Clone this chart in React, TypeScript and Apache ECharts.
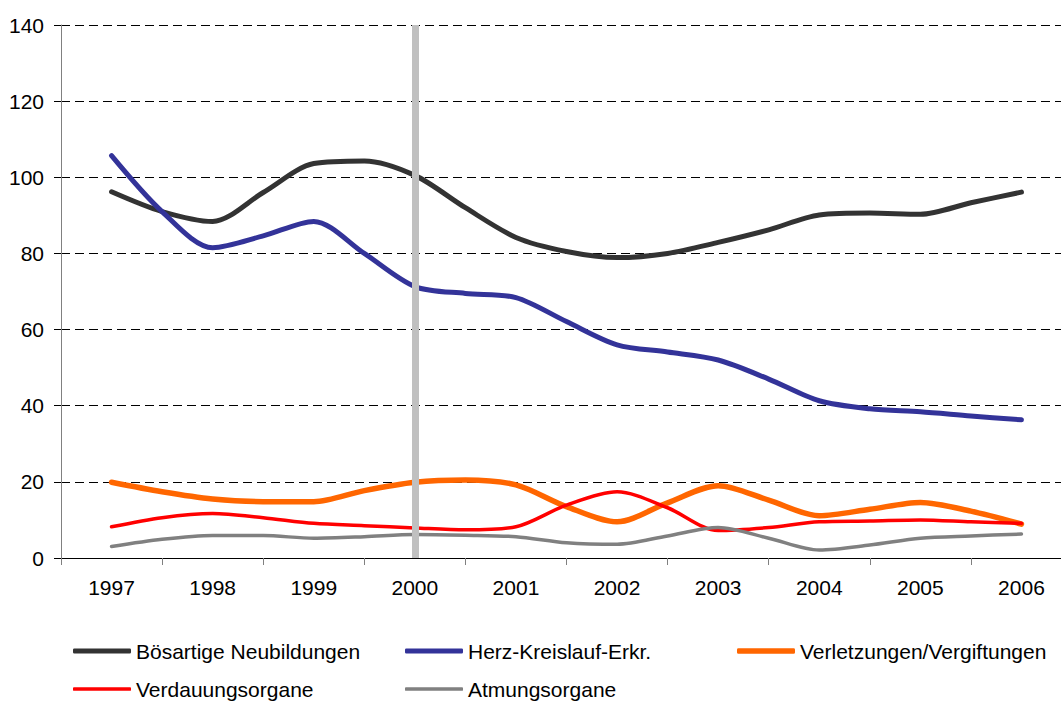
import React, { useEffect, useRef } from "react";
import * as echarts from "echarts";

const years = ["1997", "1998", "1999", "2000", "2001", "2002", "2003", "2004", "2005", "2006"];
const times = [1997, 1997.5, 1998, 1998.5, 1999, 1999.5, 2000, 2000.5, 2001, 2001.5, 2002, 2002.5, 2003, 2003.5, 2004, 2004.5, 2005, 2005.5, 2006];

const boesartig = [96.2, 91.0, 88.4, 96.0, 103.6, 104.3, 100.5, 92.0, 84.2, 80.5, 78.9, 80.0, 82.9, 86.2, 90.1, 90.6, 90.3, 93.3, 96.1];
const herzKreislauf = [105.7, 91.0, 81.5, 84.6, 88.4, 80.0, 71.3, 69.5, 68.4, 62.1, 56.0, 54.1, 52.0, 47.0, 41.3, 39.2, 38.4, 37.3, 36.3];
const verletzungen = [19.9, 17.4, 15.5, 14.8, 14.8, 17.7, 19.9, 20.5, 19.2, 13.5, 9.5, 14.5, 19.0, 15.2, 11.1, 12.8, 14.6, 12.3, 8.9];
const verdauung = [8.2, 10.6, 11.7, 10.6, 9.1, 8.5, 7.9, 7.4, 8.2, 13.9, 17.4, 13.2, 7.2, 8.0, 9.5, 9.7, 10.0, 9.5, 9.1];
const atmung = [3.0, 4.9, 5.9, 5.9, 5.2, 5.6, 6.2, 6.0, 5.6, 4.0, 3.6, 5.8, 8.0, 5.2, 2.1, 3.4, 5.2, 5.8, 6.3];
const markerYear = 2000;

const yTicks = { min: 0, max: 140, interval: 20 };

const seriesDefs = [
  { name: "Bösartige Neubildungen", values: boesartig, color: "#333333", width: 5 },
  { name: "Herz-Kreislauf-Erkr.", values: herzKreislauf, color: "#333399", width: 5 },
  { name: "Verletzungen/Vergiftungen", values: verletzungen, color: "#FF6600", width: 5.5 },
  { name: "Verdauungsorgane", values: verdauung, color: "#FF0000", width: 3.5 },
  { name: "Atmungsorgane", values: atmung, color: "#808080", width: 3.5 },
];

const legendPos = [
  { left: 73, top: 640 },
  { left: 405, top: 640 },
  { left: 737, top: 640 },
  { left: 73, top: 678 },
  { left: 405, top: 678 },
];

const FONT = '"Liberation Sans", Arial, sans-serif';
const FS = 21;

export default function App() {
  const ref = useRef<HTMLDivElement>(null);
  useEffect(() => {
    if (!ref.current) return;
    const chart = echarts.init(ref.current, undefined, { renderer: "svg" });
    const series: any[] = seriesDefs.map((s, idx) => {
      const o: any = {
        name: s.name,
        type: "line",
        xAxisIndex: 1,
        yAxisIndex: 0,
        data: times.map((t, i) => [t, s.values[i]]),
        smooth: 0.3,
        showSymbol: false,
        symbol: "none",
        color: s.color,
        lineStyle: { color: s.color, width: s.width, cap: "round", join: "round" },
        silent: true,
        z: 2 + idx,
      };
      if (idx === seriesDefs.length - 1) {
        o.markLine = {
          silent: true,
          symbol: "none",
          z: 20,
          label: { show: false },
          lineStyle: { color: "#C0C0C0", width: 7, type: "solid" },
          data: [{ xAxis: markerYear }],
        };
      }
      return o;
    });
    const legends = seriesDefs.map((s, i) => ({
      data: [s.name],
      left: legendPos[i].left,
      top: legendPos[i].top,
      orient: "horizontal",
      padding: 0,
      icon: "roundRect",
      itemWidth: 58,
      itemHeight: s.width,
      selectedMode: false,
      textStyle: { fontSize: FS, color: "#000", fontFamily: FONT, lineHeight: 22 },
    }));
    chart.setOption({
      animation: false,
      textStyle: { fontFamily: FONT },
      legend: legends,
      grid: { left: 61, top: 25, width: 1011, height: 533, containLabel: false },
      xAxis: [
        {
          type: "category",
          data: years,
          boundaryGap: true,
          axisLine: { show: true, lineStyle: { color: "#000", width: 1 } },
          axisTick: { show: true, length: 7, lineStyle: { color: "#808080" } },
          axisLabel: { fontSize: FS, color: "#000", margin: 19, fontFamily: FONT },
          splitLine: { show: false },
        },
        {
          type: "value",
          min: 1996.5,
          max: 2006.5,
          show: false,
          splitLine: { show: false },
        },
      ],
      yAxis: {
        type: "value",
        min: yTicks.min,
        max: yTicks.max,
        interval: yTicks.interval,
        axisLine: { show: true, lineStyle: { color: "#808080", width: 1 } },
        axisTick: { show: true, length: 7, lineStyle: { color: "#000" } },
        axisLabel: { fontSize: FS, color: "#000", margin: 17, fontFamily: FONT },
        splitLine: { show: true, lineStyle: { color: "#000", type: [9, 5], width: 1 } },
      },
      series,
    });
    return () => chart.dispose();
  }, []);
  return (
    <div style={{ position: "fixed", left: 0, top: 0, width: 1061, height: 702, overflow: "hidden", background: "#fff" }}>
      <div ref={ref} style={{ position: "absolute", left: 0, top: 0, width: 1090, height: 702 }} />
    </div>
  );
}
